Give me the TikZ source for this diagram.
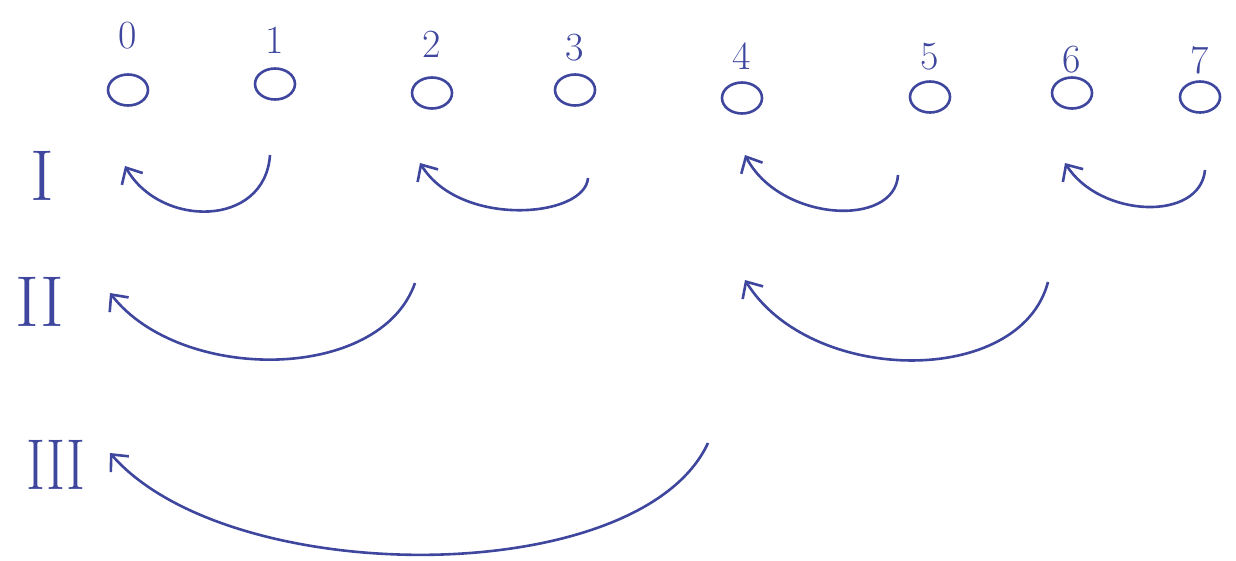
\documentclass[tikz,border=0pt]{standalone}
\usepackage{tikz}
\usetikzlibrary{arrows.meta, positioning, shapes.geometric}
\definecolor{penblue}{RGB}{62,70,158}

\begin{document}
\begin{tikzpicture}[
		x=1pt, y=-1pt,
		elem/.style={draw=penblue, ellipse, line width=2.6pt, minimum width=40pt, minimum height=31pt, inner sep=0pt},
		idx/.style={text=penblue, font=\fontsize{40}{42}\selectfont},
		lvl/.style={text=penblue, font=\fontsize{72}{74}\selectfont},
		merge/.style={draw=penblue, line width=2.6pt, -{Straight Barb[length=13pt, width=24pt, line width=2.6pt]}}
		]
		\useasboundingbox (0,0) rectangle (1236,560);
		
		% Elements and indices
		\foreach \i/\x/\y/\ly in {0/128/90/36, 1/275/84/40, 2/432/93/44, 3/575/90/48,
			4/742/98/56, 5/930/97/57, 6/1072/93/60, 7/1200/97/60}{
			\node[elem] (e\i) at (\x,\y) {};
			\node[idx] (n\i) at (\x,\ly) {\i};
		}
		
		% Levels
		\node[lvl] (L1) at (42,176) {I};
		\node[lvl] (L2) at (40,302) {II};
		\node[lvl, xscale=0.8] (L3) at (56,465) {III};
		
		% Level I
		\coordinate (s01) at (270,155);
		\coordinate (t01) at (125,166);
		\draw[merge] (s01) .. controls (265,228) and (160,228) .. (t01);
		
		\coordinate (s23) at (588,178);
		\coordinate (t23) at (420,163);
		\draw[merge] (s23) .. controls (585,218) and (460,228) .. (t23);
		
		\coordinate (s45) at (898,175);
		\coordinate (t45) at (745,155);
		\draw[merge] (s45) .. controls (895,228) and (780,222) .. (t45);
		
		\coordinate (s67) at (1205,170);
		\coordinate (t67) at (1065,163);
		\draw[merge] (s67) .. controls (1200,222) and (1100,218) .. (t67);
		
		% Level II
		\coordinate (s02) at (415,283);
		\coordinate (t02) at (110,293);
		\draw[merge] (s02) .. controls (380,383) and (180,383) .. (t02);
		
		\coordinate (s46) at (1048,282);
		\coordinate (t46) at (745,280);
		\draw[merge] (s46) .. controls (1020,388) and (810,385) .. (t46);
		
		% Level III
		\coordinate (s04) at (708,443);
		\coordinate (t04) at (110,453);
		\draw[merge] (s04) .. controls (640,590) and (230,590) .. (t04);
		
	\end{tikzpicture}
\end{document}
